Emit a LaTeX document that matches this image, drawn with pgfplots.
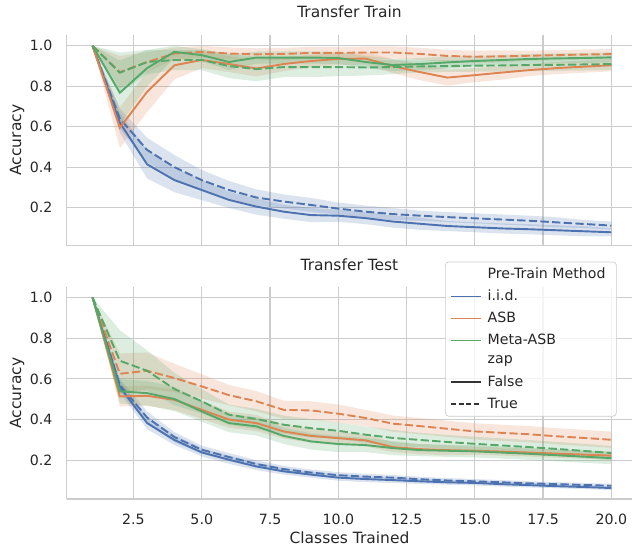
\documentclass[border=0pt]{standalone}
\usepackage{fontspec}
\setmainfont{DejaVu Sans}
\usepackage{pgfplots}
\usepackage{pgfplotstable}
\pgfplotsset{compat=1.18}
\usepgfplotslibrary{fillbetween}

\definecolor{sbblue}{HTML}{4C72B0}
\definecolor{sborange}{HTML}{DD8452}
\definecolor{sbgreen}{HTML}{55A868}

% mean and half-width of the band for each pre-train method and zap (F/T)
\pgfplotstableread{
x iidF iidFe iidT iidTe asbF asbFe asbT asbTe metaF metaFe metaT metaTe
1 1.000 0 1.000 0 1.000 0 1.000 0 1.000 0 1.000 0
2 .620 .05 .640 .05 .595 .10 .870 .08 .768 .16 .867 .10
3 .414 .07 .485 .06 .773 .10 .920 .05 .890 .09 .920 .06
4 .336 .06 .400 .06 .904 .07 .962 .03 .970 .03 .930 .05
5 .287 .05 .336 .05 .930 .04 .970 .03 .954 .03 .930 .05
6 .238 .04 .287 .045 .910 .04 .962 .03 .920 .04 .900 .06
7 .205 .04 .250 .04 .888 .04 .958 .03 .942 .03 .885 .06
8 .180 .035 .230 .035 .910 .035 .960 .03 .942 .03 .895 .05
9 .163 .035 .213 .035 .925 .03 .965 .03 .942 .03 .895 .05
10 .160 .03 .195 .03 .935 .03 .965 .03 .940 .03 .895 .045
11 .148 .03 .180 .03 .937 .03 .967 .03 .920 .03 .893 .04
12 .131 .03 .168 .03 .900 .035 .967 .03 .905 .03 .895 .035
13 .120 .03 .160 .025 .870 .04 .960 .03 .910 .03 .898 .03
14 .109 .025 .153 .025 .843 .04 .950 .03 .918 .03 .900 .03
15 .103 .025 .147 .025 .855 .035 .946 .03 .925 .025 .902 .03
16 .097 .025 .141 .025 .868 .035 .948 .03 .930 .025 .903 .03
17 .093 .025 .135 .025 .880 .03 .951 .025 .935 .025 .905 .03
18 .088 .025 .127 .025 .890 .03 .954 .025 .938 .025 .906 .03
19 .083 .025 .119 .02 .897 .03 .957 .025 .940 .025 .908 .03
20 .078 .02 .111 .02 .904 .03 .959 .025 .943 .025 .910 .03
}\train

\pgfplotstableread{
x iidF iidFe iidT iidTe asbF asbFe asbT asbTe metaF metaFe metaT metaTe
1 1.000 0 1.000 0 1.000 0 1.000 0 1.000 0 1.000 0
2 .560 .03 .570 .03 .514 .05 .625 .10 .539 .06 .689 .15
3 .383 .03 .410 .03 .517 .05 .640 .09 .530 .06 .640 .10
4 .300 .025 .314 .025 .497 .05 .604 .07 .501 .06 .550 .08
5 .239 .02 .252 .02 .448 .045 .563 .06 .440 .05 .490 .06
6 .203 .02 .216 .02 .400 .04 .520 .05 .383 .045 .424 .05
7 .170 .018 .182 .018 .383 .04 .490 .05 .367 .045 .403 .05
8 .146 .016 .157 .016 .342 .035 .448 .045 .320 .04 .375 .045
9 .130 .015 .140 .015 .320 .035 .445 .045 .293 .04 .358 .045
10 .115 .015 .127 .015 .309 .03 .429 .045 .280 .04 .345 .04
11 .108 .015 .120 .014 .298 .03 .408 .04 .275 .035 .326 .04
12 .103 .014 .115 .013 .265 .025 .380 .04 .260 .035 .310 .04
13 .097 .013 .107 .012 .255 .025 .368 .04 .250 .03 .300 .035
14 .092 .012 .101 .012 .250 .025 .355 .04 .247 .03 .290 .035
15 .089 .012 .097 .011 .247 .02 .342 .04 .244 .03 .281 .035
16 .083 .012 .092 .011 .243 .02 .335 .04 .238 .03 .273 .035
17 .078 .011 .087 .01 .238 .02 .328 .04 .232 .03 .265 .035
18 .073 .01 .083 .01 .233 .02 .318 .04 .225 .03 .256 .035
19 .069 .01 .079 .01 .228 .02 .310 .04 .218 .03 .246 .035
20 .064 .01 .075 .01 .223 .02 .301 .04 .211 .03 .236 .035
}\test

\newcommand\band[3]{%
  \addplot[draw=none, forget plot, name path=hi#2] table[x=x, y expr=\thisrow{#2}+\thisrow{#2e}] {#1};
  \addplot[draw=none, forget plot, name path=lo#2] table[x=x, y expr=\thisrow{#2}-\thisrow{#2e}] {#1};
  \addplot[fill=#3, fill opacity=0.2, draw=none, forget plot] fill between[of=hi#2 and lo#2];
}
\newcommand\curve[4]{%
  \addplot[#3, line width=1.15pt, #4, forget plot] table[x=x, y=#2] {#1};
}
\newcommand\allseries[1]{%
  \band{#1}{iidF}{sbblue}\band{#1}{iidT}{sbblue}
  \band{#1}{asbF}{sborange}\band{#1}{asbT}{sborange}
  \band{#1}{metaF}{sbgreen}\band{#1}{metaT}{sbgreen}
  \curve{#1}{iidF}{sbblue}{solid}\curve{#1}{iidT}{sbblue}{zap}
  \curve{#1}{asbF}{sborange}{solid}\curve{#1}{asbT}{sborange}{zap}
  \curve{#1}{metaF}{sbgreen}{solid}\curve{#1}{metaT}{sbgreen}{zap}
}

\pgfplotsset{
  zap/.style={dash pattern=on 5pt off 2pt},
  panel/.style={
    scale only axis, width=339.8pt,
    anchor=south west,
    xmin=0.05, xmax=20.77,
    axis lines*=left, axis line style={black!20, line width=0.8pt, -},
    grid=major, grid style={black!20, line width=0.7pt},
    major tick length=0pt,
    xtick={2.5,5,7.5,10,12.5,15,17.5,20},
    ytick={0.2,0.4,0.6,0.8,1.0},
    /pgf/number format/assume math mode=true,
    xticklabel style={/pgf/number format/.cd, fixed, fixed zerofill, precision=1, /tikz/.cd, yshift=-5.5pt},
    yticklabel style={/pgf/number format/.cd, fixed, fixed zerofill, precision=1, /tikz/.cd, xshift=-5pt},
    tick label style={font=\fontsize{8.5}{10}\selectfont, text=black!85},
    label style={font=\fontsize{9.3}{11}\selectfont, text=black!85},
    title style={font=\fontsize{9.3}{11}\selectfont, text=black!85, at={(0.5,1)}, anchor=center, yshift=7.8pt},
    ylabel style={at={(-0.0877,0.5)}, anchor=center},
    ylabel={Accuracy},
  },
}

\begin{document}
\begin{tikzpicture}
\begin{axis}[panel, at={(0,152.2pt)}, height=126.8pt,
  ymin=0.012, ymax=1.056, xticklabels={}, title={Transfer Train}]
\allseries{\train}
\end{axis}

\begin{axis}[panel, at={(0,0)}, height=127.2pt,
  ymin=0.01, ymax=1.05, title={Transfer Test},
  xlabel={Classes Trained},
  xlabel style={at={(0.5,0)}, anchor=center, yshift=-23.4pt},
  legend cell align=left,
  legend image code/.code={\draw[#1] (0pt,0pt) -- (18pt,0pt);},
  legend style={at={(1,1)}, anchor=north east, xshift=-9.4pt, yshift=15.4pt,
    font=\fontsize{8.5}{10}\selectfont, text=black!85,
    draw=black!20, fill=white, fill opacity=0.8, text opacity=1,
    rounded corners=2pt, inner xsep=3pt, inner ysep=1.4pt, row sep=1.4pt,
    nodes={inner xsep=3.5pt}},
]
\allseries{\test}
\addlegendimage{empty legend}\addlegendentry{Pre-Train Method}
\addlegendimage{sbblue, line width=0.9pt}\addlegendentry{i.i.d.}
\addlegendimage{sborange, line width=0.9pt}\addlegendentry{ASB}
\addlegendimage{sbgreen, line width=0.9pt}\addlegendentry{Meta-ASB}
\addlegendimage{empty legend}\addlegendentry{zap}
\addlegendimage{black!80, line width=0.9pt}\addlegendentry{False}
\addlegendimage{black!80, line width=0.9pt, dash pattern=on 3pt off 1.5pt}\addlegendentry{True}
\end{axis}
\path (-40pt,-28.8pt) rectangle (339.8pt,297.6pt);
\end{tikzpicture}
\end{document}
